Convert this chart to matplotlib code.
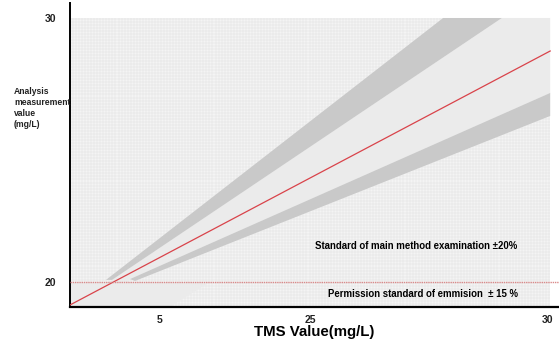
import matplotlib
matplotlib.use("Agg")
import matplotlib.pyplot as plt
import numpy as np

plt.rcParams['font.family'] = ['Liberation Sans', 'DejaVu Sans']

# x axis is in arbitrary position units (0-100), labelled like the original
x_tick_pos = [18.4, 49.1, 97.7]
x_tick_labels = ['5', '25', '30']
y_tick_pos = [20, 30]
y_tick_labels = ['20', '30']

# reference line (measurement = TMS)
ref_x = [0.0, 98.2]
ref_y = [19.13, 28.75]

# limit line at 20
limit_y = 20.0

# +-20% band edges (upper and lower, outer and inner)
up_outer_x = [7.36, 76.3]
up_outer_y = [20.08, 30.0]
up_inner_x = [8.59, 88.3]
up_inner_y = [20.08, 30.0]
lo_inner_x = [12.27, 98.2]
lo_inner_y = [20.11, 27.16]
lo_outer_x = [13.3, 98.2]
lo_outer_y = [20.04, 26.29]

# light region under the limit line
low_x = [0.0, 0.0, 20.4, 28.6]
low_y = [20.0, 19.05, 19.05, 20.0]

grid_right = 98.2
grid_top = 30.0

fig = plt.figure(figsize=(5.59, 3.41), dpi=100)
ax = fig.add_axes([70/559, 34/341, 489/559, 304/341])
ax.set_xlim(0, 100)
ax.set_ylim(19.053, 30.568)

# grid background
ax.add_patch(plt.Rectangle((0, 19.053), grid_right, grid_top - 19.053,
                           facecolor='#f4f4f4', edgecolor='none', zorder=0))
gx = np.arange(0, grid_right, 0.62)
gy = np.arange(19.053, grid_top, 0.115)
ax.vlines(gx, 19.053, grid_top, color='#e0e0e0', lw=0.35, zorder=0.5)
ax.hlines(gy, 0, grid_right, color='#e0e0e0', lw=0.35, zorder=0.5)

# light band around the reference line
light_x = [8.0, up_inner_x[0], up_inner_x[1], grid_right, grid_right, lo_inner_x[0], 12.0]
light_y = [20.0, up_inner_y[0], up_inner_y[1], grid_top, lo_inner_y[1], lo_inner_y[0], 20.0]
ax.fill(light_x, light_y, color='#ebebeb', lw=0, zorder=1)
ax.fill(low_x, low_y, color='#ebebeb', lw=0, zorder=1)

# dark bands
ax.fill(up_outer_x + up_inner_x[::-1], up_outer_y + up_inner_y[::-1],
        color='#c9c9c9', lw=0, zorder=2)
ax.fill(lo_inner_x + lo_outer_x[::-1], lo_inner_y + lo_outer_y[::-1],
        color='#c9c9c9', lw=0, zorder=2)

ax.plot(ref_x, ref_y, color='#d9434a', lw=0.9, zorder=3)
ax.axhline(limit_y, color='#d98a8a', lw=1.0, ls=(0, (1, 0.6)), zorder=3)

ax.text(70.8, 21.36, 'Standard of main method examination \u00b120%',
        fontsize=6.9, fontweight='bold', ha='center', va='center', zorder=4)
ax.text(72.1, 19.55, 'Permission standard of emmision  \u00b1 15 %',
        fontsize=6.9, fontweight='bold', ha='center', va='center', zorder=4)

for s in ['top', 'right']:
    ax.spines[s].set_visible(False)
ax.spines['left'].set_linewidth(1.4)
ax.spines['bottom'].set_linewidth(1.6)

ax.set_xticks(x_tick_pos, x_tick_labels)
ax.set_yticks(y_tick_pos, y_tick_labels)
ax.tick_params(length=0, labelsize=7.5, pad=6)
for t in ax.get_xticklabels() + ax.get_yticklabels():
    t.set_fontweight('bold')
    t.set_color('#222222')
ax.tick_params(axis='y', pad=10)

ax.set_xlabel('TMS Value(mg/L)', fontsize=10.8, fontweight='bold', labelpad=0)
fig.text(14/559, 1 - 108/341, 'Analysis\nmeasurement\nvalue\n(mg/L)',
         fontsize=6.2, fontweight='bold', ha='left', va='center',
         linespacing=1.25, color='#222222')

fig.savefig('out.png', dpi=100)
